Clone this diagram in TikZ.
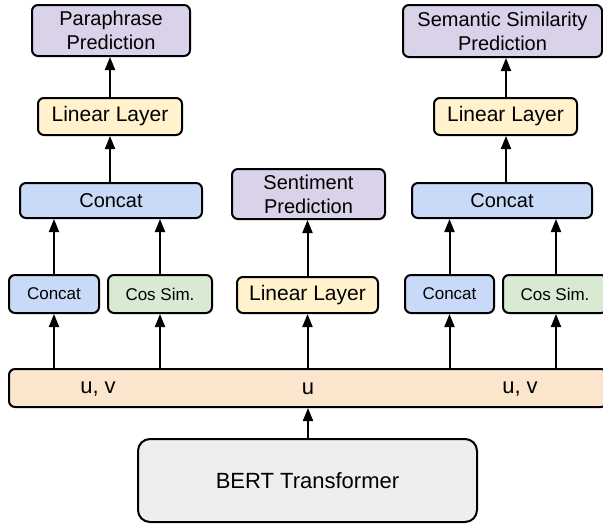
\documentclass[tikz,border=0pt]{standalone}
\usepackage{fontspec}
\setmainfont{Liberation Sans}
\usetikzlibrary{arrows.meta}
\definecolor{cpurple}{HTML}{D9D2E9}
\definecolor{cyellow}{HTML}{FFF2CC}
\definecolor{cblue}{HTML}{C9DAF8}
\definecolor{cgreen}{HTML}{D9EAD3}
\definecolor{corange}{HTML}{FCE5CD}
\definecolor{cgray}{HTML}{EEEEEE}
\begin{document}
\begin{tikzpicture}[x=1pt,y=-1pt,
  box/.style={draw=black,line width=2pt,rounded corners=6pt,inner sep=0pt,align=center,font=\fontsize{20}{24}\selectfont},
  sbox/.style={box,font=\fontsize{17}{20}\selectfont},
  lbox/.style={box,font=\fontsize{21}{24}\selectfont},
  arr/.style={line width=2pt,-{Triangle[length=13pt,width=10pt]}},
  lbl/.style={inner sep=0pt,font=\fontsize{22}{24}\selectfont}]
\useasboundingbox (0,0) rectangle (603,523);
% top predictions
\node[box,fill=cpurple,minimum width=158pt,minimum height=51pt] (para) at (111,30.5) {Paraphrase\\Prediction};
\node[box,fill=cpurple,minimum width=199pt,minimum height=52pt] (sim) at (502.5,31) {Semantic Similarity\\Prediction};
\node[box,fill=cpurple,minimum width=153pt,minimum height=50pt] (sent) at (308.5,194) {Sentiment\\Prediction};
% linear layers
\node[lbox,fill=cyellow,minimum width=144pt,minimum height=37pt] (linL) at (110,116.5) {Linear Layer};
\node[lbox,fill=cyellow,minimum width=143pt,minimum height=37pt] (linR) at (505.5,116.5) {Linear Layer};
\node[lbox,fill=cyellow,minimum width=141pt,minimum height=36pt] (linM) at (307.5,295) {Linear Layer};
% big concat
\node[box,fill=cblue,minimum width=182pt,minimum height=35pt] (concatL) at (111,200.5) {Concat};
\node[box,fill=cblue,minimum width=180pt,minimum height=35pt] (concatR) at (502,200.5) {Concat};
% small boxes
\node[sbox,fill=cblue,minimum width=90pt,minimum height=38pt] (concS1) at (54,294) {Concat};
\node[sbox,fill=cgreen,minimum width=104pt,minimum height=38pt] (cos1) at (160,294) {Cos Sim.};
\node[sbox,fill=cblue,minimum width=89pt,minimum height=38pt] (concS2) at (449.5,294) {Concat};
\node[sbox,fill=cgreen,minimum width=104pt,minimum height=38pt] (cos2) at (555,294) {Cos Sim.};
% bar
\node[box,fill=corange,minimum width=598pt,minimum height=38pt] (bar) at (308,388) {};
\node[lbl] (uv1) at (98,389) {u, v};
\node[lbl] (u) at (308,389) {u};
\node[lbl] (uv2) at (520,389) {u, v};
% BERT
\node[box,fill=cgray,minimum width=339pt,minimum height=83pt,rounded corners=12pt,font=\fontsize{22}{24}\selectfont] (bert) at (307.5,480.5) {BERT Transformer};
% arrows
\draw[arr] (bert.north -| u) -- (bar.south -| u);
\draw[arr] (bar.north -| concS1) -- (concS1.south);
\draw[arr] (bar.north -| cos1) -- (cos1.south);
\draw[arr] (bar.north -| linM) -- (linM.south);
\draw[arr] (bar.north -| concS2) -- (concS2.south);
\draw[arr] (bar.north -| 556,0) -- (cos2.south -| 556,0);
\draw[arr] (concS1.north) -- (concatL.south -| concS1);
\draw[arr] (cos1.north) -- (concatL.south -| cos1);
\draw[arr] (concS2.north) -- (concatR.south -| concS2);
\draw[arr] (cos2.north -| 556,0) -- (concatR.south -| 556,0);
\draw[arr] (concatL.north -| linL) -- (linL.south);
\draw[arr] (linL.north) -- (para.south -| linL);
\draw[arr] (concatR.north -| 506,0) -- (linR.south -| 506,0);
\draw[arr] (linR.north -| 506,0) -- (sim.south -| 506,0);
\draw[arr] (linM.north) -- (sent.south -| linM);
\end{tikzpicture}
\end{document}
